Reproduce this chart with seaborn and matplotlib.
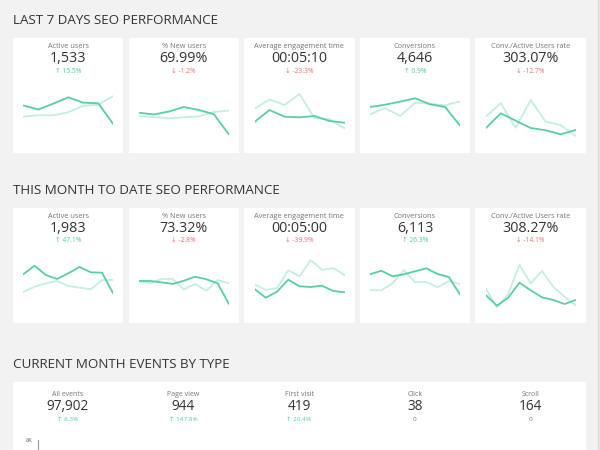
import matplotlib
matplotlib.use('Agg')
import matplotlib.pyplot as plt
import seaborn as sns
import pandas as pd
from matplotlib.patches import Rectangle

sns.set_theme(style='white')
plt.rcParams['font.family'] = ['Open Sans', 'DejaVu Sans']

# ---------------- data ----------------
section_titles = ["LAST 7 DAYS SEO PERFORMANCE", "THIS MONTH TO DATE SEO PERFORMANCE",
                  "CURRENT MONTH EVENTS BY TYPE"]
kpi_labels = ["Active users", "% New users", "Average engagement time", "Conversions",
              "Conv./Active Users rate"]

week_values = ["1,533", "69.99%", "00:05:10", "4,646", "303.07%"]
week_changes = ["15.5%", "-1.2%", "-23.3%", "0.9%", "-12.7%"]
week_up = [True, False, False, True, False]

month_values = ["1,983", "73.32%", "00:05:00", "6,113", "308.27%"]
month_changes = ["47.1%", "-2.8%", "-39.9%", "26.3%", "-14.1%"]
month_up = [True, False, False, True, False]

# sparkline series (relative scale), current period / previous period
week_current = [
    [34.5, 30.5, 36.3, 42.7, 37.3, 36.7, 15.8],
    [27.3, 25.5, 28.5, 33.0, 30.0, 25.8, 5.5],
    [18.0, 30.0, 23.3, 22.7, 24.0, 19.0, 17.3],
    [33.0, 35.3, 38.3, 41.7, 35.7, 33.0, 14.3],
    [11.7, 26.7, 19.3, 12.0, 9.7, 5.7, 10.0],
]
week_previous = [
    [23.3, 24.8, 24.7, 27.8, 34.3, 35.3, 44.0],
    [23.8, 23.0, 21.7, 22.8, 23.7, 28.0, 29.5],
    [31.3, 40.5, 35.0, 46.0, 21.7, 21.0, 11.7],
    [25.7, 32.0, 24.0, 37.3, 36.3, 34.7, 38.7],
    [23.3, 36.7, 12.3, 40.0, 18.3, 15.0, 4.0],
]
month_current = [
    [35.1, 43.7, 34.4, 30.4, 36.1, 42.4, 37.1, 36.7, 15.7],
    [28.4, 28.4, 27.1, 25.4, 28.7, 32.7, 30.1, 26.1, 5.4],
    [20.4, 11.7, 17.7, 29.7, 23.1, 22.4, 23.7, 18.4, 17.1],
    [35.1, 38.7, 33.1, 35.1, 38.1, 41.1, 35.4, 32.4, 14.7],
    [14.4, 3.7, 11.7, 26.7, 19.1, 12.1, 9.4, 5.4, 9.4],
]
month_previous = [
    [17.4, 22.7, 26.1, 28.4, 23.4, 21.7, 20.1, 29.4, 29.4],
    [28.4, 26.1, 30.4, 30.4, 20.1, 25.4, 18.7, 29.4, 26.1],
    [25.1, 19.4, 21.4, 39.1, 33.1, 49.4, 39.4, 41.4, 34.4],
    [19.4, 19.1, 26.1, 39.1, 27.1, 27.4, 22.1, 28.4, 25.4],
    [20.7, 2.1, 15.4, 44.4, 26.1, 38.4, 22.7, 12.7, 4.1],
]

event_labels = ["All events", "Page view", "First visit", "Click", "Scroll"]
event_values = ["97,902", "944", "419", "38", "164"]
event_changes = ["8.3%", "147.8%", "20.4%", "0", "0"]
event_up = [True, True, True, None, None]

# ---------------- style ----------------
BG = '#f2f2f2'
DARK = '#58cea9'
LIGHT = '#c4eee0'
GREEN = '#4fcca3'
RED = '#f07272'
TXT = '#333333'
LAB = '#777777'

W, H = 600, 450
fig = plt.figure(figsize=(6, 4.5), dpi=100, facecolor=BG)
bg = fig.add_axes([0, 0, 1, 1])
bg.set_xlim(0, W)
bg.set_ylim(H, 0)
bg.axis('off')

# scrollbar edge
bg.add_patch(Rectangle((597.5, 0), 2.5, H, facecolor='#e8e8e8', edgecolor='none'))
bg.plot([597.5, 597.5], [0, H], color='#d8d8d8', lw=0.8)

card_x = [13 + i * 115.6 for i in range(5)]
card_w = 110.3


def add_row(title, title_y, top, values, changes, ups, cur, prev):
    bg.text(13, title_y, title, fontsize=9.6, color=TXT, va='center', ha='left')
    for i in range(5):
        x0 = card_x[i]
        bg.add_patch(Rectangle((x0, top), card_w, 115, facecolor='white', edgecolor='none'))
        cx = x0 + card_w / 2
        bg.text(cx, top + 8.4, kpi_labels[i], fontsize=5.3, color=LAB, ha='center', va='center')
        bg.text(cx, top + 20.7, values[i], fontsize=10.3, color=TXT, ha='center', va='center')
        col = GREEN if ups[i] else RED
        arrow = '\u2191' if ups[i] else '\u2193'
        bg.text(cx, top + 32.8, arrow + ' ' + changes[i], fontsize=4.9, color=col,
                ha='center', va='center', family=['Open Sans', 'DejaVu Sans'])
        # sparkline axes
        ay_top = top + 49.7
        ah = 52
        ax = fig.add_axes([(x0 + 10.3) / W, 1 - (ay_top + ah) / H, 90 / W, ah / H])
        ax.set_facecolor('none')
        n = len(cur[i])
        df = pd.DataFrame({'x': list(range(n)) * 2,
                           'v': prev[i] + cur[i],
                           'p': ['prev'] * n + ['cur'] * n})
        sns.lineplot(data=df[df.p == 'prev'], x='x', y='v', ax=ax, color=LIGHT, lw=1.3)
        sns.lineplot(data=df[df.p == 'cur'], x='x', y='v', ax=ax, color=DARK, lw=1.3)
        ax.set_xlim(0, n - 1)
        ax.set_ylim(0, ah)
        ax.axis('off')


add_row(section_titles[0], 20, 38.3, week_values, week_changes, week_up,
        week_current, week_previous)
add_row(section_titles[1], 190, 207.7, month_values, month_changes, month_up,
        month_current, month_previous)

# third section
bg.text(13, 364, section_titles[2], fontsize=9.6, color=TXT, va='center', ha='left')
bg.add_patch(Rectangle((13, 381.7), 572.7, 80, facecolor='white', edgecolor='none'))
for i in range(5):
    cx = 67.7 + i * 115.7
    bg.text(cx, 394, event_labels[i], fontsize=5.0, color=LAB, ha='center', va='center')
    bg.text(cx, 406.7, event_values[i], fontsize=9.8, color=TXT, ha='center', va='center')
    if event_up[i] is None:
        bg.text(cx, 419.3, event_changes[i], fontsize=4.6, color=LAB, ha='center', va='center')
    else:
        bg.text(cx, 419.3, '\u2191 ' + event_changes[i], fontsize=4.6, color=GREEN,
                ha='center', va='center', family=['Open Sans', 'DejaVu Sans'])

# start of the events chart (cut off)
eax = fig.add_axes([38.3 / W, 1 - 560 / H, 540 / W, 120 / H])
eax.set_facecolor('none')
eax.set_ylim(0, 8000)
eax.set_yticks([8000])
eax.set_yticklabels(['8K'], fontsize=4.2, color='#666666')
eax.set_xticks([])
for s in ['top', 'right', 'bottom']:
    eax.spines[s].set_visible(False)
eax.spines['left'].set_color('#999999')
eax.spines['left'].set_linewidth(0.8)
eax.tick_params(axis='y', length=0, pad=4)

fig.savefig('out.png', dpi=100, facecolor=BG)
